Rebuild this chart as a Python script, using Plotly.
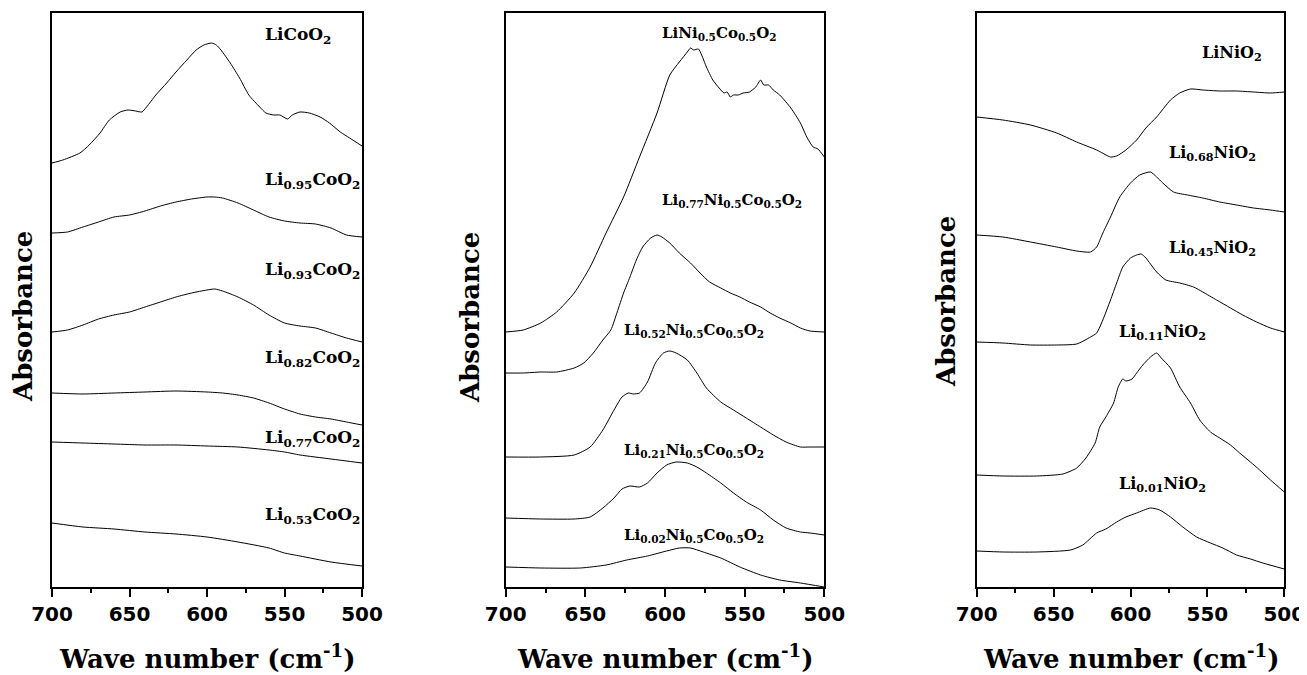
import plotly.graph_objects as go

# ---------------- Panel 1: LixCoO2 ----------------
co_labels = ["LiCoO<sub>2</sub>", "Li<sub>0.95</sub>CoO<sub>2</sub>", "Li<sub>0.93</sub>CoO<sub>2</sub>",
             "Li<sub>0.82</sub>CoO<sub>2</sub>", "Li<sub>0.77</sub>CoO<sub>2</sub>", "Li<sub>0.53</sub>CoO<sub>2</sub>"]

co_100_x = [700, 693, 682, 676, 669, 663, 656, 651, 646, 642, 639, 633, 626, 620, 613, 607, 602, 597,
            594, 591, 585, 579, 573, 566, 562, 557, 553, 548, 545, 540, 534, 527, 521, 514, 508, 500]
co_100_y = [4.27, 4.30, 4.37, 4.45, 4.57, 4.70, 4.78, 4.80, 4.79, 4.78, 4.83, 4.95, 5.07, 5.18, 5.30, 5.40,
            5.45, 5.47, 5.45, 5.40, 5.27, 5.12, 4.95, 4.83, 4.77, 4.75, 4.75, 4.71, 4.75, 4.78, 4.77, 4.73,
            4.67, 4.58, 4.52, 4.44]

co_095_x = [700, 690, 680, 670, 660, 650, 640, 630, 620, 610, 600, 595, 590, 580, 570, 560, 550, 540, 530, 520, 510, 500]
co_095_y = [3.57, 3.58, 3.63, 3.68, 3.73, 3.75, 3.79, 3.84, 3.88, 3.91, 3.93, 3.93, 3.92, 3.87, 3.80, 3.73,
            3.69, 3.67, 3.66, 3.62, 3.55, 3.53]

co_093_x = [700, 690, 680, 670, 660, 650, 640, 630, 620, 610, 600, 595, 590, 580, 570, 560, 550, 540, 530, 520, 510, 500]
co_093_y = [2.58, 2.60, 2.65, 2.71, 2.75, 2.78, 2.83, 2.88, 2.93, 2.97, 3.00, 3.01, 2.99, 2.93, 2.85, 2.75,
            2.67, 2.64, 2.62, 2.57, 2.52, 2.48]

co_082_x = [700, 680, 660, 640, 620, 600, 590, 580, 570, 560, 550, 540, 530, 520, 510, 500]
co_082_y = [1.97, 1.96, 1.97, 1.98, 1.99, 1.98, 1.97, 1.95, 1.92, 1.87, 1.81, 1.76, 1.73, 1.71, 1.68, 1.65]

co_077_x = [700, 680, 660, 640, 620, 600, 580, 560, 550, 540, 520, 500]
co_077_y = [1.48, 1.47, 1.46, 1.45, 1.45, 1.44, 1.43, 1.40, 1.38, 1.35, 1.31, 1.27]

co_053_x = [700, 680, 660, 640, 620, 600, 580, 560, 550, 540, 520, 500]
co_053_y = [0.67, 0.63, 0.61, 0.58, 0.56, 0.53, 0.48, 0.42, 0.37, 0.34, 0.28, 0.24]

# ---------------- Panel 2: LixNi0.5Co0.5O2 ----------------
nc_labels = ["LiNi<sub>0.5</sub>Co<sub>0.5</sub>O<sub>2</sub>",
             "Li<sub>0.77</sub>Ni<sub>0.5</sub>Co<sub>0.5</sub>O<sub>2</sub>",
             "Li<sub>0.52</sub>Ni<sub>0.5</sub>Co<sub>0.5</sub>O<sub>2</sub>",
             "Li<sub>0.21</sub>Ni<sub>0.5</sub>Co<sub>0.5</sub>O<sub>2</sub>",
             "Li<sub>0.02</sub>Ni<sub>0.5</sub>Co<sub>0.5</sub>O<sub>2</sub>"]

nc_100_x = [700, 689, 678, 668, 657, 647, 637, 626, 616, 605, 597, 591, 586, 584, 582, 579, 577, 574, 570,
            566, 563, 561, 559, 557, 554, 551, 547, 543, 540, 538, 535, 532, 528, 521, 515, 511, 507, 504, 500]
nc_100_y = [2.58, 2.60, 2.67, 2.78, 2.97, 3.23, 3.57, 3.93, 4.33, 4.77, 5.15, 5.28, 5.38, 5.42, 5.40, 5.41,
            5.35, 5.23, 5.10, 5.02, 4.97, 4.98, 4.93, 4.95, 4.95, 4.97, 4.98, 5.03, 5.10, 5.05, 5.05, 5.00,
            4.95, 4.82, 4.67, 4.53, 4.43, 4.41, 4.33]

nc_077_x = [700, 689, 678, 668, 657, 651, 645, 639, 634, 630, 626, 622, 618, 614, 609, 605, 602, 597, 591,
            584, 578, 572, 565, 559, 553, 547, 540, 534, 528, 521, 515, 509, 500]
nc_077_y = [2.17, 2.17, 2.18, 2.18, 2.22, 2.27, 2.37, 2.50, 2.60, 2.78, 2.97, 3.13, 3.30, 3.43, 3.52, 3.55,
            3.53, 3.47, 3.37, 3.27, 3.17, 3.08, 3.02, 2.97, 2.93, 2.88, 2.83, 2.77, 2.72, 2.67, 2.62, 2.59, 2.58]

nc_052_x = [700, 678, 657, 647, 639, 632, 627, 623, 620, 616, 611, 606, 601, 597, 593, 586, 580, 574, 565,
            557, 549, 540, 532, 524, 515, 509, 500]
nc_052_y = [1.33, 1.33, 1.35, 1.43, 1.60, 1.80, 1.93, 1.97, 1.96, 1.97, 2.08, 2.27, 2.37, 2.39, 2.37, 2.30,
            2.17, 2.02, 1.88, 1.80, 1.72, 1.63, 1.55, 1.48, 1.43, 1.43, 1.43]

nc_021_x = [700, 678, 657, 647, 639, 632, 627, 622, 616, 611, 605, 599, 593, 586, 580, 574, 565, 557, 549,
            540, 532, 524, 515, 509, 500]
nc_021_y = [0.72, 0.71, 0.71, 0.73, 0.82, 0.92, 1.01, 1.04, 1.03, 1.07, 1.17, 1.25, 1.28, 1.27, 1.23, 1.17,
            1.07, 0.97, 0.88, 0.80, 0.70, 0.62, 0.58, 0.57, 0.55]

nc_002_x = [700, 678, 653, 637, 624, 611, 599, 591, 584, 576, 565, 553, 540, 528, 515, 500]
nc_002_y = [0.23, 0.22, 0.22, 0.25, 0.30, 0.34, 0.39, 0.42, 0.42, 0.38, 0.32, 0.23, 0.15, 0.10, 0.07, 0.03]

# ---------------- Panel 3: LixNiO2 ----------------
ni_labels = ["LiNiO<sub>2</sub>", "Li<sub>0.68</sub>NiO<sub>2</sub>", "Li<sub>0.45</sub>NiO<sub>2</sub>",
             "Li<sub>0.11</sub>NiO<sub>2</sub>", "Li<sub>0.01</sub>NiO<sub>2</sub>"]

ni_100_x = [700, 683, 665, 648, 635, 622, 613, 609, 603, 596, 590, 583, 574, 568, 561, 553, 542, 531, 520, 509, 500]
ni_100_y = [4.73, 4.70, 4.65, 4.57, 4.48, 4.40, 4.33, 4.34, 4.40, 4.50, 4.62, 4.73, 4.90, 4.97, 5.01, 5.00,
            4.99, 4.99, 4.98, 4.97, 4.98]

ni_068_x = [700, 683, 665, 648, 635, 626, 622, 618, 613, 607, 600, 594, 587, 583, 579, 572, 563, 553, 542,
            531, 520, 509, 500]
ni_068_y = [3.55, 3.53, 3.48, 3.43, 3.39, 3.38, 3.43, 3.57, 3.73, 3.93, 4.07, 4.15, 4.18, 4.13, 4.07, 3.98,
            3.95, 3.92, 3.88, 3.85, 3.82, 3.80, 3.78]

ni_045_x = [700, 683, 665, 648, 635, 626, 622, 618, 613, 609, 605, 600, 596, 593, 590, 583, 577, 568, 559,
            553, 544, 535, 527, 518, 509, 500]
ni_045_y = [2.48, 2.47, 2.45, 2.45, 2.46, 2.53, 2.57, 2.70, 2.90, 3.07, 3.23, 3.32, 3.35, 3.36, 3.32, 3.18,
            3.10, 3.07, 3.03, 2.98, 2.90, 2.82, 2.75, 2.68, 2.62, 2.58]

ni_011_x = [700, 683, 661, 644, 635, 629, 623, 620, 616, 611, 608, 605, 603, 599, 596, 592, 587, 583, 580,
            574, 568, 561, 555, 548, 542, 535, 529, 522, 516, 509, 500]
ni_011_y = [1.15, 1.14, 1.14, 1.16, 1.22, 1.32, 1.47, 1.63, 1.73, 1.87, 2.03, 2.11, 2.09, 2.11, 2.17, 2.25,
            2.33, 2.37, 2.32, 2.22, 2.03, 1.87, 1.70, 1.58, 1.52, 1.45, 1.37, 1.28, 1.20, 1.10, 0.98]

ni_001_x = [700, 683, 661, 639, 631, 622, 616, 609, 603, 596, 587, 581, 574, 566, 557, 548, 540, 531, 522, 514, 500]
ni_001_y = [0.39, 0.38, 0.38, 0.40, 0.45, 0.57, 0.61, 0.68, 0.73, 0.77, 0.82, 0.80, 0.73, 0.63, 0.53, 0.47,
            0.42, 0.35, 0.31, 0.27, 0.21]

x_ticks = [700, 650, 600, 550, 500]
x_title = "<b>Wave number (cm<sup>-1</sup>)</b>"
y_title = "<b>Absorbance</b>"

panels = [
    dict(curves=[(co_100_x, co_100_y), (co_095_x, co_095_y), (co_093_x, co_093_y),
                 (co_082_x, co_082_y), (co_077_x, co_077_y), (co_053_x, co_053_y)],
         labels=co_labels, label_size=17,
         label_pos=[(564, 5.55), (564, 4.10), (564, 3.20), (564, 2.32), (564, 1.52), (564, 0.75)]),
    dict(curves=[(nc_100_x, nc_100_y), (nc_077_x, nc_077_y), (nc_052_x, nc_052_y),
                 (nc_021_x, nc_021_y), (nc_002_x, nc_002_y)],
         labels=nc_labels, label_size=15,
         label_pos=[(603, 5.57), (603, 3.90), (627, 2.60), (627, 1.40), (627, 0.55)]),
    dict(curves=[(ni_100_x, ni_100_y), (ni_068_x, ni_068_y), (ni_045_x, ni_045_y),
                 (ni_011_x, ni_011_y), (ni_001_x, ni_001_y)],
         labels=ni_labels, label_size=16,
         label_pos=[(555, 5.37), (576, 4.37), (576, 3.42), (609, 2.58), (609, 1.06)]),
]

# page is rendered with an 8px body margin -> figure is placed at (8, 8)
OFF = 8
W, H = 1307 - OFF, 675 - OFF


def fx(px):
    return (px - OFF) / W


def fy(py):
    return 1 - (py - OFF) / H


x_domains = [[fx(52), fx(362)], [fx(505.7), fx(824.3)], [fx(976.7), fx(1284.3)]]
y_domain = [fy(587), fy(13)]
ytitle_pos = [(fx(23), fy(317)), (fx(470), fy(318)), (fx(946), fy(302))]

fig = go.Figure()
annotations = []
FONT = "DejaVu Serif"

for i, p in enumerate(panels):
    sfx = "" if i == 0 else str(i + 1)
    xa, ya = "x" + sfx, "y" + sfx
    for cx, cy in p["curves"]:
        fig.add_trace(go.Scatter(x=cx, y=cy, mode="lines", xaxis=xa, yaxis=ya,
                                 line=dict(color="black", width=1, shape="spline", smoothing=0.6),
                                 showlegend=False, hoverinfo="skip"))
    for lab, (lx, ly) in zip(p["labels"], p["label_pos"]):
        annotations.append(dict(x=lx, y=ly, xref=xa, yref=ya, text="<b>" + lab + "</b>",
                                showarrow=False, xanchor="left", yanchor="middle",
                                font=dict(family=FONT, size=p["label_size"], color="black")))
    d = x_domains[i]
    annotations.append(dict(x=(d[0] + d[1]) / 2, y=fy(657), xref="paper", yref="paper",
                            text=x_title, showarrow=False, xanchor="center", yanchor="middle",
                            font=dict(family=FONT, size=26, color="black")))
    tx, ty = ytitle_pos[i]
    annotations.append(dict(x=tx, y=ty, xref="paper", yref="paper", text=y_title, textangle=-90,
                            showarrow=False, xanchor="center", yanchor="middle",
                            font=dict(family=FONT, size=26, color="black")))

    fig.update_layout(**{
        "xaxis" + sfx: dict(domain=d, range=[700, 500], anchor=ya, tickvals=x_ticks, automargin=False,
                            ticktext=[str(v) for v in x_ticks], ticks="outside", ticklen=8,
                            tickwidth=1.5, tickcolor="black",
                            minor=dict(dtick=25, tick0=500, ticks="outside", ticklen=4, tickcolor="black"),
                            showline=True, linecolor="black", linewidth=2, mirror=True,
                            showgrid=False, zeroline=False,
                            tickfont=dict(family="DejaVu Sans", size=20, color="black", weight="bold")),
        "yaxis" + sfx: dict(domain=y_domain, range=[0.03, 5.77], anchor=xa, showticklabels=False,
                            automargin=False,
                            ticks="", showline=True, linecolor="black", linewidth=2, mirror=True,
                            showgrid=False, zeroline=False),
    })

fig.update_layout(template="none", width=W, height=H, margin=dict(l=0, r=0, t=0, b=0, pad=0),
                  autosize=False, paper_bgcolor="white", plot_bgcolor="white", annotations=annotations)

fig.write_html("out.html")
